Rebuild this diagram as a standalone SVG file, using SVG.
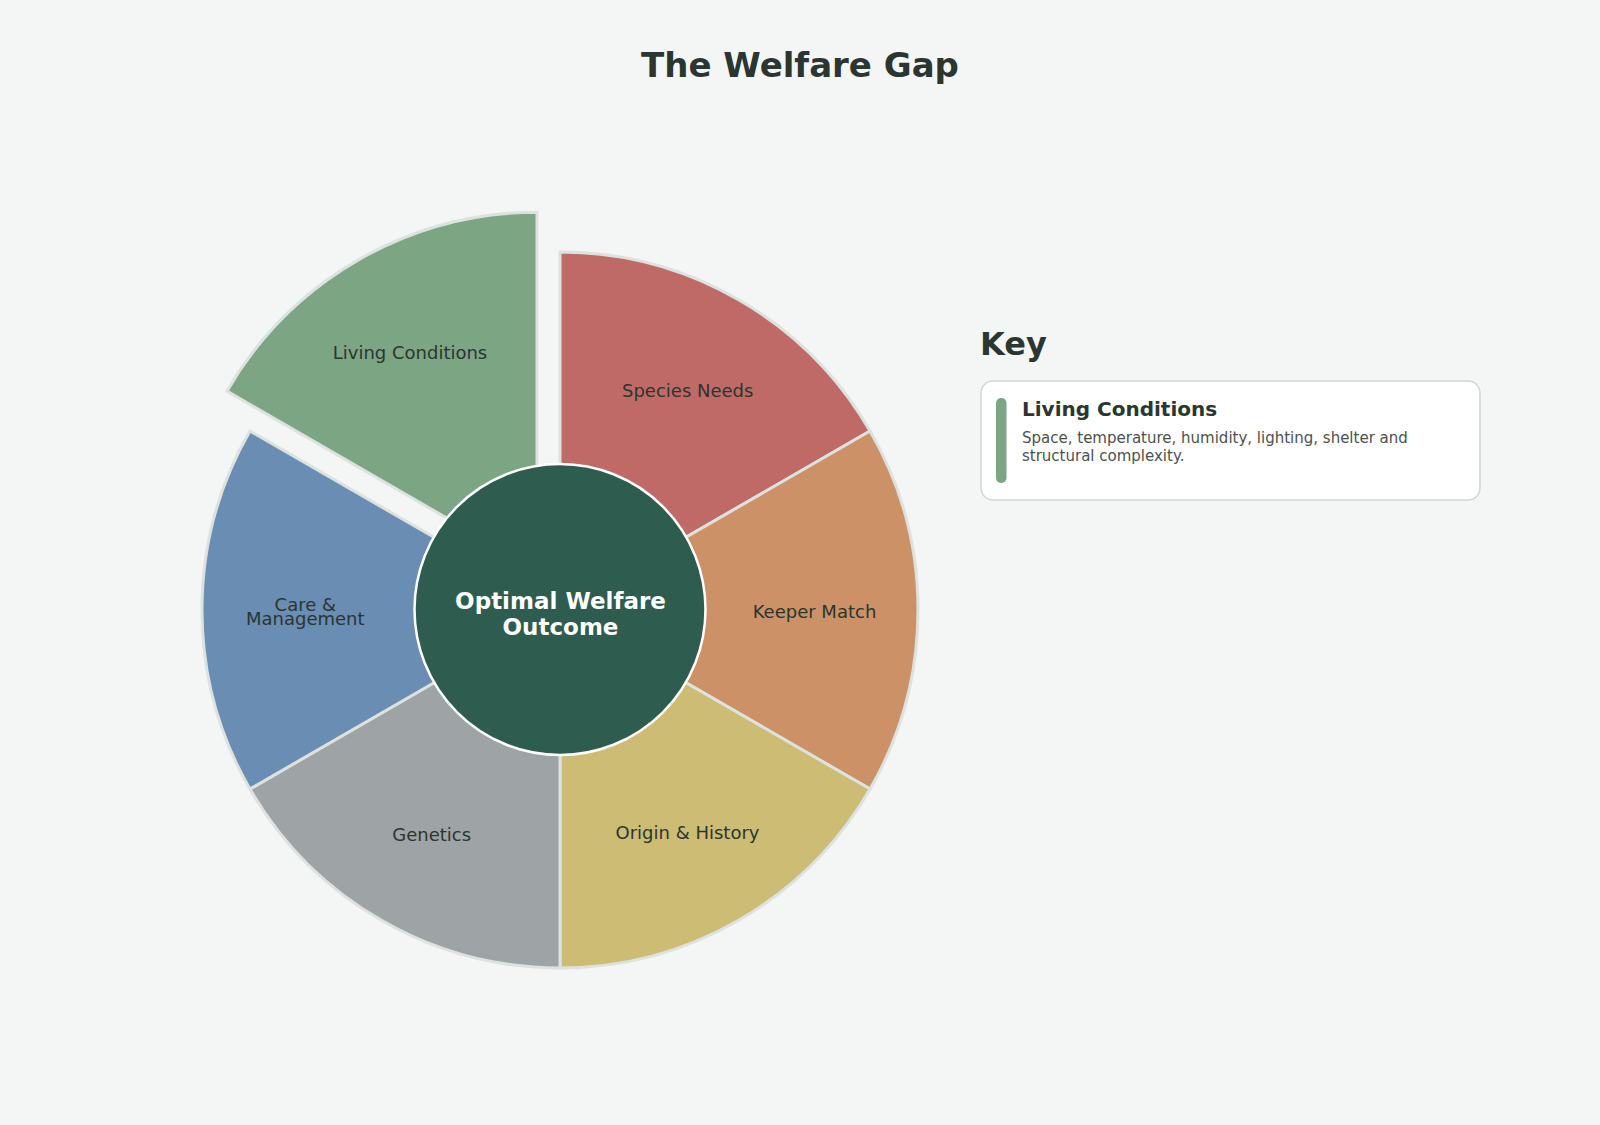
<svg xmlns="http://www.w3.org/2000/svg" width="1600" height="1125" viewBox="0 0 1600 1125">
  <style>
    .seg { stroke: #dde2df; stroke-width: 3; }
    .lbl { font-family: "DejaVu Sans", sans-serif; font-size: 18px; fill: #2b3531; text-anchor: middle; }
    .title { font-family: "DejaVu Sans", sans-serif; font-weight: bold; font-size: 34px; fill: #2b3531; text-anchor: middle; }
    .center { font-family: "DejaVu Sans", sans-serif; font-weight: bold; font-size: 23px; fill: #ffffff; text-anchor: middle; }
    .keyh { font-family: "DejaVu Sans", sans-serif; font-weight: bold; font-size: 32px; fill: #2b3531; }
    .cardt { font-family: "DejaVu Sans", sans-serif; font-weight: bold; font-size: 20px; fill: #2b3531; }
    .cardd { font-family: "DejaVu Sans", sans-serif; font-size: 15px; fill: #4a524f; }
  </style>
  <rect x="0" y="0" width="1600" height="1125" fill="#f4f6f5"/>
  <text class="title" x="800" y="77">The Welfare Gap</text>

  <g id="seg-species-needs">
    <path class="seg" fill="#c06a68" d="M560,610 L560,252 A358,358 0 0 1 870.04,431 Z"/>
    <text class="lbl" x="687.7" y="397.3">Species Needs</text>
  </g>
  <g id="seg-keeper-match">
    <path class="seg" fill="#cc9166" d="M560,610 L870.04,431 A358,358 0 0 1 870.04,789 Z"/>
    <text class="lbl" x="814.5" y="617.7">Keeper Match</text>
  </g>
  <g id="seg-origin-history">
    <path class="seg" fill="#cdbc74" d="M560,610 L870.04,789 A358,358 0 0 1 560,968 Z"/>
    <text class="lbl" x="687.5" y="839">Origin &amp; History</text>
  </g>
  <g id="seg-genetics">
    <path class="seg" fill="#9ea3a5" d="M560,610 L560,968 A358,358 0 0 1 249.96,789 Z"/>
    <text class="lbl" x="431.7" y="841">Genetics</text>
  </g>
  <g id="seg-care-management">
    <path class="seg" fill="#698db3" d="M560,610 L249.96,789 A358,358 0 0 1 249.96,431 Z"/>
    <text class="lbl" x="305.3" y="611">Care &amp;</text>
    <text class="lbl" x="305.3" y="625">Management</text>
  </g>
  <g id="seg-living-conditions">
    <path class="seg" fill="#7ba583" transform="translate(-23,-39.84)" d="M560,610 L249.96,431 A358,358 0 0 1 560,252 Z"/>
    <text class="lbl" x="410" y="359.3">Living Conditions</text>
  </g>

  <g id="center-node">
    <circle cx="560" cy="609.5" r="145.5" fill="#2e5c4f" stroke="#ffffff" stroke-width="2.5"/>
    <text class="center" x="560.5" y="609.3">Optimal Welfare</text>
    <text class="center" x="560.5" y="635">Outcome</text>
  </g>

  <g id="connectors"></g>

  <g id="key">
    <text class="keyh" x="980" y="355">Key</text>
    <rect x="981" y="381" width="499" height="119" rx="12" ry="12" fill="#ffffff" stroke="#cfd6d3" stroke-width="1.5"/>
    <rect x="996" y="398" width="10.5" height="85" rx="5" ry="5" fill="#7ba583"/>
    <text class="cardt" x="1022" y="415.5">Living Conditions</text>
    <text class="cardd" x="1022" y="442.5">Space, temperature, humidity, lighting, shelter and</text>
    <text class="cardd" x="1022" y="460.5">structural complexity.</text>
  </g>
</svg>
